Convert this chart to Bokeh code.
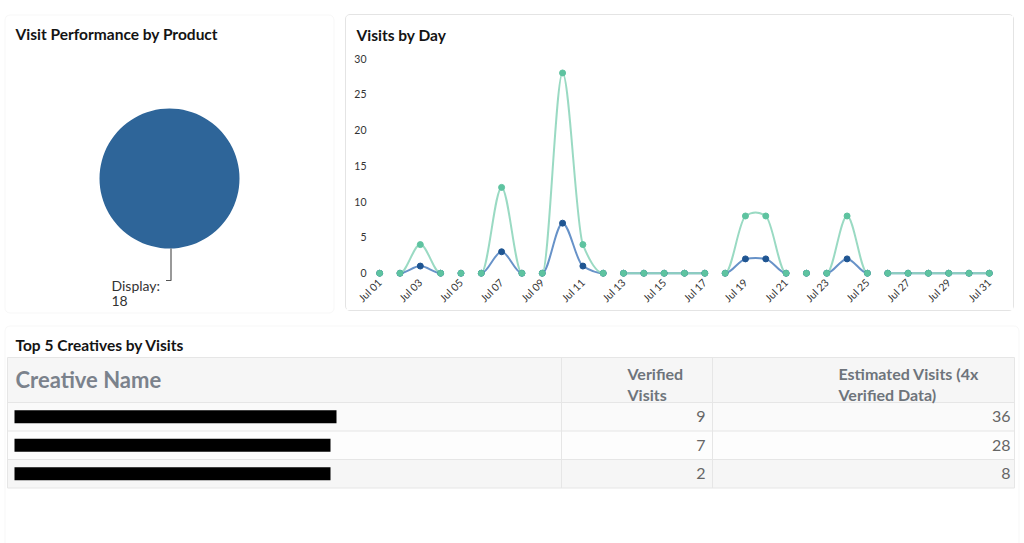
import math
import pandas as pd
from bokeh.plotting import figure
from bokeh.models import (ColumnDataSource, Range1d, BoxAnnotation, FixedTicker,
                          DatetimeTickFormatter, Spacer)
from bokeh.layouts import column, row
from bokeh.core.properties import value
from bokeh.embed import file_html
from bokeh.resources import INLINE

# ---------------- data ----------------
product_names = ["Display"]
product_visits = [18]

dates = pd.date_range("2019-07-01", "2019-07-31", freq="D")
verified_visits = [0, 0, 1, 0, 0, 0, 3, 0, 0, 7, 1, 0, 0, 0, 0, 0,
                   0, 0, 2, 2, 0, 0, 0, 2, 0, 0, 0, 0, 0, 0, 0]
estimated_visits = [0, 0, 4, 0, 0, 0, 12, 0, 0, 28, 4, 0, 0, 0, 0, 0,
                    0, 0, 8, 8, 0, 0, 0, 8, 0, 0, 0, 0, 0, 0, 0]
line_segment = [0, 1, 1, 1, 2, 3, 3, 3, 4, 4, 4, 4, 5, 5, 5, 5,
                5, 6, 6, 6, 6, 7, 8, 8, 8, 9, 9, 9, 9, 9, 9]
y_ticks = [0, 5, 10, 15, 20, 25, 30]
x_tick_days = [1, 3, 5, 7, 9, 11, 13, 15, 17, 19, 21, 23, 25, 27, 29, 31]

table_headers = ["Creative Name", "Verified\nVisits", "Estimated Visits (4x\nVerified Data)"]
table_verified = [9, 7, 2]
table_estimated = [36, 28, 8]

# ---------------- style ----------------
FONT = value("Lato")
TITLE_COLOR = "#141414"
TITLE_SIZE = "15.5px"
PANEL_LINE = "#e4e4e4"
PIE_COLOR = "#2e6599"
GREEN_LINE = "#8fd6bc"
GREEN_MARK = "#5ec3a0"
BLUE_LINE = "#5686c2"
BLUE_MARK = "#1f5592"


def panel_box(left, right, top, bottom):
    return BoxAnnotation(left=left, right=right, top=top, bottom=bottom,
                         left_units="canvas", right_units="canvas",
                         top_units="canvas", bottom_units="canvas",
                         fill_alpha=0, line_color=PANEL_LINE, line_width=1,
                         border_radius=5)


# ---------------- panel 1 : pie ----------------
W1, H1 = 340, 319
p1 = figure(width=W1, height=H1, output_backend="svg", toolbar_location=None,
            x_range=Range1d(0, W1), y_range=Range1d(H1, 0),
            x_axis_location=None, y_axis_location=None, min_border=0)
p1.grid.visible = False
p1.outline_line_color = None
p1.add_layout(panel_box(4.5, 333.5, 14.5, 312.5))
p1.text(x=[15], y=[33], text=["Visit Performance by Product"], text_font=FONT,
        text_font_style="bold", text_font_size=TITLE_SIZE, text_color=TITLE_COLOR,
        text_baseline="middle")

total = sum(product_visits)
starts, ends = [], []
acc = math.pi / 2
for v in product_visits:
    sweep = 2 * math.pi * v / total
    starts.append(acc)
    ends.append(acc + sweep - 1e-6)
    acc += sweep
cx, cy, r = 169, 178, 70
pie_src = ColumnDataSource(dict(x=[cx] * len(product_visits), y=[cy] * len(product_visits),
                                start=starts, end=ends, name=product_names, v=product_visits))
p1.wedge(x="x", y="y", radius=r, radius_units="screen", start_angle="start",
         end_angle="end", source=pie_src, fill_color=PIE_COLOR, line_color=None)

for name, v, s, e in zip(product_names, product_visits, starts, ends):
    mid = (s + e) / 2
    lx = cx + r * math.cos(mid) + 1.5
    ly = cy - r * math.sin(mid)
    p1.line(x=[lx, lx, lx - 5], y=[ly, ly + 32, ly + 32], line_color="#555555", line_width=1.2)
    p1.text(x=[111, 111], y=[285, 300], text=[f"{name}:", f"{v}"], text_font=FONT,
            text_font_size="14px", text_color="#333333", text_baseline="middle")

# ---------------- panel 2 : line chart ----------------
W2, H2 = 669, 297
DAY = 86400000
xs = [d.value / 1e6 for d in dates]


def bezier_source(ys, seg, tension=0.5):
    n = len(ys)
    m = [0.0] * n
    for i in range(1, n - 1):
        if seg[i - 1] == seg[i] == seg[i + 1]:
            d0 = ys[i] - ys[i - 1]
            d1 = ys[i + 1] - ys[i]
            if d0 * d1 < 0 or (d0 == 0 and d1 == 0):
                m[i] = 0.0
            else:
                m[i] = tension * (ys[i + 1] - ys[i - 1]) / 2
    out = dict(x0=[], y0=[], x1=[], y1=[], cx0=[], cy0=[], cx1=[], cy1=[])
    for i in range(n - 1):
        if seg[i] != seg[i + 1]:
            continue
        dx = (xs[i + 1] - xs[i]) / 3
        out["x0"].append(xs[i]); out["y0"].append(ys[i])
        out["x1"].append(xs[i + 1]); out["y1"].append(ys[i + 1])
        out["cx0"].append(xs[i] + dx); out["cy0"].append(max(0, ys[i] + m[i] / 3))
        out["cx1"].append(xs[i + 1] - dx); out["cy1"].append(max(0, ys[i + 1] - m[i + 1] / 3))
    return ColumnDataSource(out)


p2 = figure(width=W2, height=H2, x_axis_type="datetime", output_backend="svg",
            toolbar_location=None,
            x_range=Range1d(xs[0] - DAY / 2, xs[-1] + DAY / 2), y_range=Range1d(-0.6, 31),
            min_border_left=23, min_border_right=16, min_border_top=36, min_border_bottom=35,
            styles={"border": f"1px solid {PANEL_LINE}", "border-radius": "5px"})
p2.grid.visible = False
p2.outline_line_color = None
p2.title.text = "Visits by Day"
p2.title.align = "left"
p2.title.offset = -13
p2.title.standoff = 16
p2.title.text_line_height = 1.0
p2.title.text_font = "Lato"
p2.title.text_font_style = "bold"
p2.title.text_font_size = TITLE_SIZE
p2.title.text_color = TITLE_COLOR

p2.yaxis.ticker = y_ticks
p2.yaxis.axis_line_color = None
p2.yaxis.major_tick_line_color = None
p2.yaxis.minor_tick_line_color = None
p2.yaxis.major_tick_out = 0
p2.yaxis.major_tick_in = 0
p2.yaxis.major_label_standoff = 3
p2.yaxis.major_label_text_font = "Lato"
p2.yaxis.major_label_text_font_size = "10.5px"
p2.yaxis.major_label_text_color = "#333333"

p2.xaxis.ticker = FixedTicker(ticks=[xs[d - 1] for d in x_tick_days])
p2.xaxis.formatter = DatetimeTickFormatter(days="%b %d", months="%b %d", hours="%b %d")
p2.xaxis.major_label_orientation = math.pi / 4
p2.xaxis.axis_line_color = None
p2.xaxis.major_tick_line_color = None
p2.xaxis.minor_tick_line_color = None
p2.xaxis.major_tick_out = 0
p2.xaxis.major_tick_in = 0
p2.xaxis.major_label_standoff = 3
p2.xaxis.major_label_text_font = "Lato"
p2.xaxis.major_label_text_font_size = "10.5px"
p2.xaxis.major_label_text_color = "#333333"

pts = ColumnDataSource(dict(x=xs, ver=verified_visits, est=estimated_visits))
p2.bezier(x0="x0", y0="y0", x1="x1", y1="y1", cx0="cx0", cy0="cy0", cx1="cx1", cy1="cy1",
          source=bezier_source(verified_visits, line_segment), line_color=BLUE_LINE,
          line_width=2, line_alpha=0.9)
p2.bezier(x0="x0", y0="y0", x1="x1", y1="y1", cx0="cx0", cy0="cy0", cx1="cx1", cy1="cy1",
          source=bezier_source(estimated_visits, line_segment), line_color=GREEN_LINE,
          line_width=2, line_alpha=0.9)
p2.scatter(x="x", y="ver", source=pts, size=6, fill_color=BLUE_MARK, line_color=BLUE_MARK)
p2.scatter(x="x", y="est", source=pts, size=6, fill_color=GREEN_MARK, line_color=GREEN_MARK)

# ---------------- panel 3 : table ----------------
W3, H3 = 1024, 224
p3 = figure(width=W3, height=H3, output_backend="svg", toolbar_location=None,
            x_range=Range1d(0, W3), y_range=Range1d(H3, 0),
            x_axis_location=None, y_axis_location=None, min_border=0)
p3.grid.visible = False
p3.outline_line_color = None
p3.add_layout(panel_box(4.5, 1018.5, 6.5, 260))
p3.text(x=[15], y=[25], text=["Top 5 Creatives by Visits"], text_font=FONT,
        text_font_style="bold", text_font_size=TITLE_SIZE, text_color=TITLE_COLOR,
        text_baseline="middle")

tbl_left, tbl_right = 7, 1014
col_edges = [tbl_left, 561, 712, tbl_right]
head_top, head_bot = 38, 83
row_h = 28.5
n_rows = len(table_verified)
row_tops = [head_bot + i * row_h for i in range(n_rows)]
row_fills = ["#fafafa", "#fdfdfd", "#f6f6f6"]

p3.quad(left=[tbl_left], right=[tbl_right], top=[head_top], bottom=[head_bot],
        fill_color="#f6f6f6", line_color=None)
p3.quad(left=[tbl_left] * n_rows, right=[tbl_right] * n_rows, top=row_tops,
        bottom=[t + row_h for t in row_tops], fill_color=row_fills[:n_rows], line_color=None)
tbl_bottom = head_bot + n_rows * row_h
hy = [head_top, head_bot] + [t + row_h for t in row_tops]
p3.multi_line(xs=[[tbl_left, tbl_right]] * len(hy), ys=[[y, y] for y in hy],
              line_color="#e6e6e6", line_width=1)
p3.multi_line(xs=[[x, x] for x in col_edges], ys=[[head_top, tbl_bottom]] * len(col_edges),
              line_color="#e6e6e6", line_width=1)

p3.text(x=[15], y=[60], text=[table_headers[0]], text_font=FONT, text_font_style="bold",
        text_font_size="22px", text_color="#7b828c", text_baseline="middle")
p3.text(x=[627, 838], y=[64.5, 64.5], text=table_headers[1:], text_font=FONT,
        text_font_style="bold", text_font_size="16px", text_color="#6e747b",
        text_baseline="middle", text_line_height=1.15)

redacted_widths = [322, 316, 316]
centers = [t + row_h / 2 for t in row_tops]
p3.quad(left=[14] * n_rows, right=[14 + w for w in redacted_widths],
        top=[c - 6.5 for c in centers], bottom=[c + 6.5 for c in centers],
        fill_color="#000000", line_color=None)

p3.text(x=[705] * n_rows, y=centers, text=[str(v) for v in table_verified], text_font=FONT,
        text_font_size="16px", text_color="#666666", text_align="right", text_baseline="middle")
p3.text(x=[1010] * n_rows, y=centers, text=[str(v) for v in table_estimated], text_font=FONT,
        text_font_size="16px", text_color="#666666", text_align="right", text_baseline="middle")

top_row = row(p1, Spacer(width=5, height=10), column(Spacer(width=10, height=14), p2))
layout = column(top_row, p3)
open("out.html", "w").write(file_html(layout, INLINE))
